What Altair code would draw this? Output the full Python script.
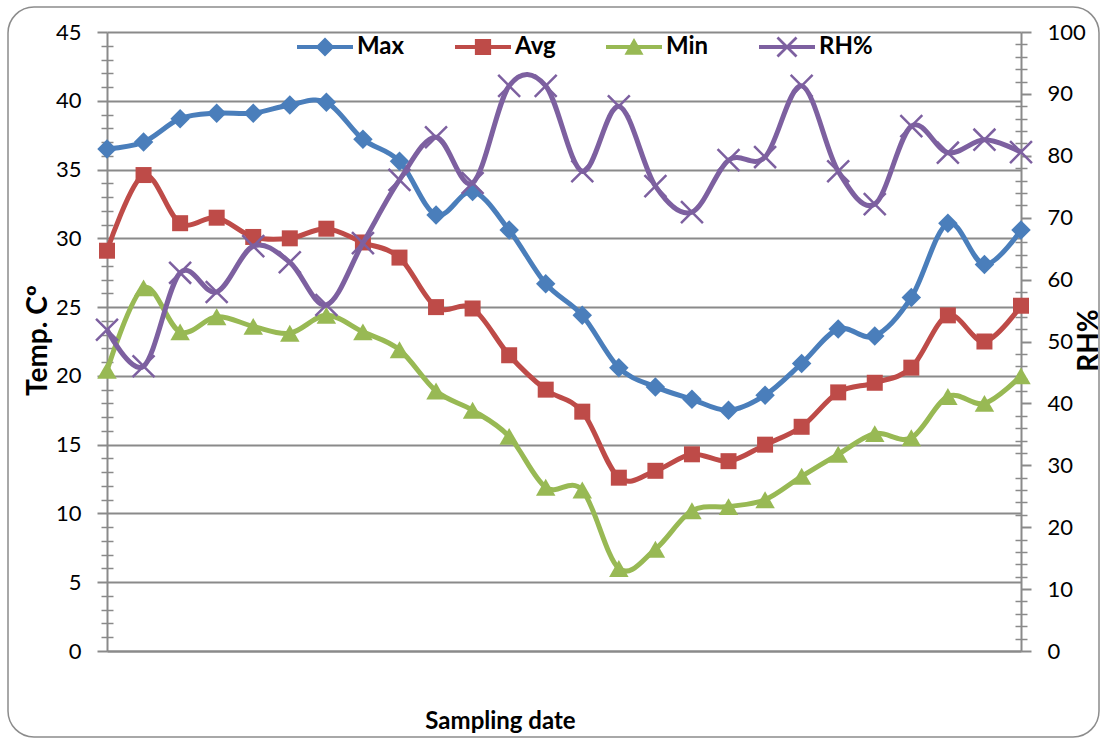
import altair as alt
import pandas as pd

# ---- data ----
samples = list(range(1, 27))
max_t = [36.5, 37.0, 38.7, 39.1, 39.1, 39.7, 39.9, 37.2, 35.6, 31.7, 33.4, 30.6, 26.7,
         24.4, 20.6, 19.2, 18.3, 17.5, 18.6, 20.9, 23.4, 22.9, 25.7, 31.1, 28.1, 30.6]
avg_t = [29.1, 34.6, 31.1, 31.5, 30.1, 30.0, 30.7, 29.7, 28.6, 25.0, 24.9, 21.5, 19.0,
         17.4, 12.6, 13.1, 14.3, 13.8, 15.0, 16.3, 18.8, 19.5, 20.6, 24.4, 22.5, 25.1]
min_t = [20.4, 26.4, 23.2, 24.3, 23.6, 23.1, 24.4, 23.2, 21.9, 18.9, 17.5, 15.6, 11.9,
         11.7, 6.0, 7.4, 10.2, 10.5, 11.0, 12.7, 14.3, 15.8, 15.5, 18.5, 18.0, 20.0]
rh = [51.9, 46.0, 61.1, 58.0, 65.4, 62.8, 55.9, 65.9, 76.1, 83.0, 75.6, 91.3, 91.3,
      77.5, 88.0, 75.1, 70.9, 79.3, 79.8, 91.3, 77.5, 72.2, 84.8, 80.5, 82.6, 80.6]

series_names = ["Max", "Avg", "Min", "RH%"]
series_colors = ["#4A7EBB", "#BE4B48", "#98B954", "#7D60A0"]

df = pd.DataFrame({"sample": samples, "Max": max_t, "Avg": avg_t, "Min": min_t, "RH": rh})
legend_df = pd.DataFrame({"series": series_names})

FONT = "Lato"
GRAY = "#8a8a8a"

x_enc = alt.X("sample:Q",
              scale=alt.Scale(domain=[1, 26], nice=False, zero=False),
              axis=alt.Axis(labels=False, ticks=False, grid=False, domain=True,
                            domainColor=GRAY, domainWidth=2,
                            title="Sampling date", titleFont=FONT, titleFontSize=24,
                            titleFontWeight="bold", titleColor="black",
                            titleX=393, titleY=77, titleBaseline="alphabetic"))

t_scale = alt.Scale(domain=[0, 45], nice=False, zero=False)
r_scale = alt.Scale(domain=[0, 100], nice=False, zero=False)

left_major = alt.Axis(orient="left", values=list(range(0, 46, 5)), grid=True, gridColor=GRAY,
                      gridWidth=2, domain=True, domainColor=GRAY, domainWidth=2,
                      ticks=True, tickSize=10, tickColor=GRAY, tickWidth=2,
                      labelFont=FONT, labelFontSize=22, labelColor="black", labelPadding=16,
                      title="Temp. Cº", titleFont=FONT, titleFontSize=28, titleFontWeight="bold",
                      titleColor="black", titleAngle=270, titleX=-61, titleY=308,
                      titleAlign="center", titleBaseline="alphabetic")
left_minor = alt.Axis(orient="left", values=[v for v in range(0, 46) if v % 5], grid=False,
                      domain=False, labels=False, ticks=True, tickSize=12, tickColor=GRAY,
                      tickWidth=1.5, offset=-6, title=None)
right_major = alt.Axis(orient="right", values=list(range(0, 101, 10)), grid=False,
                       domain=True, domainColor=GRAY, domainWidth=2,
                       ticks=True, tickSize=10, tickColor=GRAY, tickWidth=2,
                       labelFont=FONT, labelFontSize=22, labelColor="black", labelPadding=16,
                       title="RH%", titleFont=FONT, titleFontSize=28, titleFontWeight="bold",
                       titleColor="black", titleAngle=270, titleX=76, titleY=308,
                       titleAlign="center", titleBaseline="alphabetic")
right_minor = alt.Axis(orient="right", values=[v for v in range(0, 101, 2) if v % 10],
                       grid=False, domain=False, labels=False, ticks=True, tickSize=12,
                       tickColor=GRAY, tickWidth=1.5, offset=-6, title=None)

base = alt.Chart(df)

def series_layers(field, color, shape, size, filled, scale, axis):
    line = base.mark_line(interpolate="cardinal", tension=0, strokeWidth=5, color=color).encode(
        x=x_enc, y=alt.Y(f"{field}:Q", scale=scale, axis=axis))
    if filled:
        pts = base.mark_point(shape=shape, size=size, filled=True, opacity=1,
                              color=color, strokeWidth=0)
    else:
        pts = base.mark_point(shape=shape, size=size, filled=False, opacity=1,
                              color=color, strokeWidth=2.5)
    pts = pts.encode(x=x_enc, y=alt.Y(f"{field}:Q", scale=scale, axis=None))
    return [line, pts]

temp_minor = base.mark_point().transform_filter("false").encode(
    y=alt.Y("Max:Q", scale=t_scale, axis=left_minor))

temp = alt.layer(
    temp_minor,
    *series_layers("Max", series_colors[0], "diamond", 380, True, t_scale, left_major),
    *series_layers("Avg", series_colors[1], "square", 256, True, t_scale, None),
    *series_layers("Min", series_colors[2], "triangle-up", 380, True, t_scale, None),
).resolve_axis(y="independent")

rh_minor = base.mark_point().transform_filter("false").encode(
    y=alt.Y("RH:Q", scale=r_scale, axis=right_minor))

rhl = alt.layer(
    rh_minor,
    *series_layers("RH", series_colors[3], "M-1,-1L1,1M-1,1L1,-1", 480, False, r_scale, right_major),
).resolve_axis(y="independent")

# legend: line + marker glyphs as custom symbol paths
line_path = "M-1,-0.075L1,-0.075L1,0.075L-1,0.075Z"
legend_paths = [
    line_path + "M0,-0.34L0.34,0L0,0.34L-0.34,0Z",
    line_path + "M-0.29,-0.29L0.29,-0.29L0.29,0.29L-0.29,0.29Z",
    line_path + "M0,-0.32L0.34,0.28L-0.34,0.28Z",
    line_path + "M-0.305,-0.375L0.375,0.305L0.305,0.375L-0.375,-0.305Z"
                "M-0.375,0.305L0.305,-0.375L0.375,-0.305L-0.305,0.375Z",
]
leg = alt.Legend(orient="none", legendX=190, legendY=-13, direction="horizontal",
                 columns=4, title=None, symbolSize=3136, symbolStrokeWidth=0,
                 labelOffset=4, columnPadding=50, padding=0,
                 labelFont=FONT, labelFontSize=24, labelFontWeight="bold", labelColor="black")
legend_layer = alt.Chart(legend_df).mark_point(filled=True, opacity=1).transform_filter("false").encode(
    color=alt.Color("series:N", scale=alt.Scale(domain=series_names, range=series_colors),
                    sort=series_names, legend=leg),
    shape=alt.Shape("series:N", scale=alt.Scale(domain=series_names, range=legend_paths),
                    sort=series_names, legend=leg),
)

border = alt.Chart(pd.DataFrame({"a": [0]})).mark_rect(
    fillOpacity=0, stroke="#8c8c8c", strokeWidth=1.5, cornerRadius=26
).encode(x=alt.value(-99), x2=alt.value(992), y=alt.value(-25), y2=alt.value(705))

chart = alt.layer(border, temp, rhl, legend_layer).resolve_scale(y="independent").properties(
    width=914, height=619,
    padding={"left": 107, "top": 32, "right": 83, "bottom": 89},
    autosize=alt.AutoSizeParams(type="none"),
    background="white",
).configure_view(strokeWidth=0)

chart.save("out.html", embed_options={"renderer": "svg", "actions": False})
